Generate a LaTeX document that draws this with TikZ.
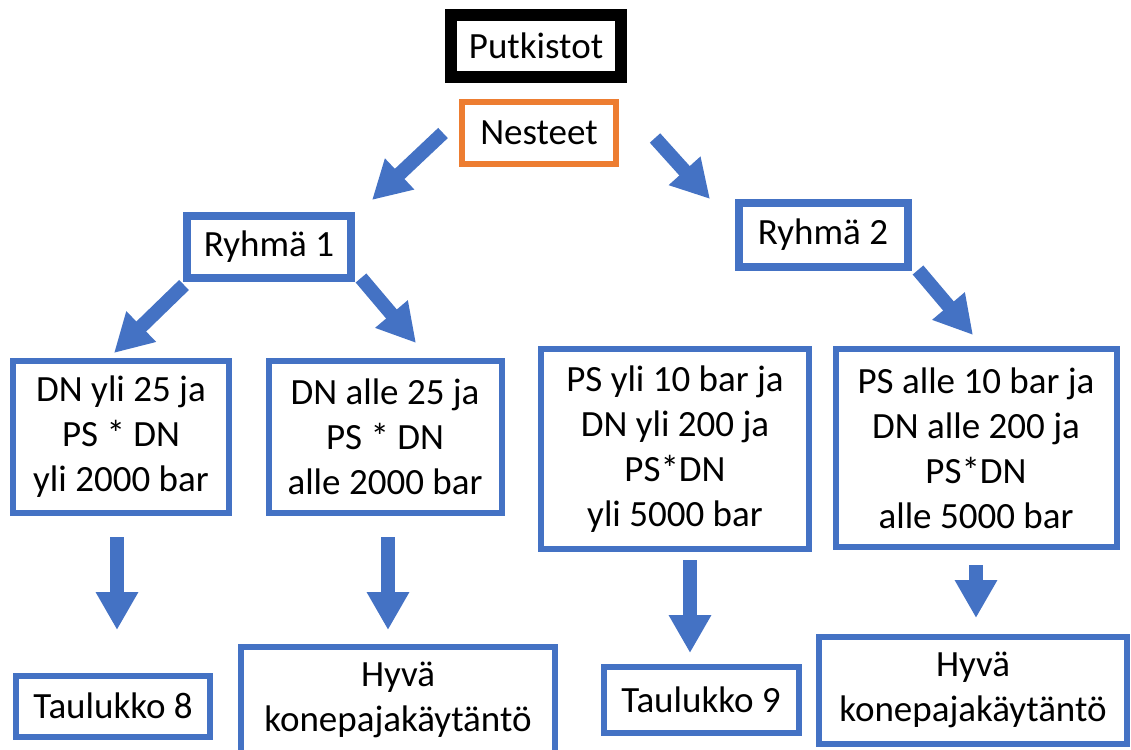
\documentclass[tikz,border=0pt]{standalone}
\usepackage{fontspec}
\setmainfont{Carlito}
\usetikzlibrary{arrows.meta}
\definecolor{boxblue}{HTML}{4472C4}
\definecolor{boxorange}{HTML}{ED7D31}
\tikzset{
  box/.style={draw=boxblue, line width=6pt, fill=white, align=center, inner sep=0pt,
    font=\fontsize{37}{45}\selectfont},
  groupbox/.style={box, line width=8pt},
  bigarrow/.style={draw=boxblue, line width=14pt, -{Triangle[length=38pt,width=40pt]}},
}

\begin{document}
\begin{tikzpicture}[x=1pt,y=-1pt]
			\useasboundingbox (0,0) rectangle (1131,749);
			\node[box, draw=black, line width=12pt, minimum width=170pt, minimum height=62pt] (putki) at (536,46) {Putkistot};
			\node[box, draw=boxorange, minimum width=154pt, minimum height=62pt] (neste) at (539,133) {Nesteet};
			\node[groupbox, minimum width=164pt, minimum height=62pt] (ryhma1) at (269,247) {Ryhmä 1};
			\node[groupbox, minimum width=169pt, minimum height=64pt] (ryhma2) at (823,235) {Ryhmä 2};
			\node[box, minimum width=216pt, minimum height=152pt] (dnyli) at (121,437) {DN yli 25 ja\\PS * DN\\yli 2000 bar};
			\node[box, minimum width=233pt, minimum height=152pt] (dnalle) at (385,437) {DN alle 25 ja\\PS * DN\\alle 2000 bar};
			\node[box, minimum width=268pt, minimum height=200pt] (psyli) at (675,449) {PS yli 10 bar ja\\DN yli 200 ja\\PS*DN\\yli 5000 bar};
			\node[box, minimum width=281pt, minimum height=198pt] (psalle) at (976,448) {PS alle 10 bar ja\\DN alle 200 ja\\PS*DN\\alle 5000 bar};
			\node[box, minimum width=194pt, minimum height=61pt] (taul8) at (113,706) {Taulukko 8};
			\node[box, minimum width=314pt, minimum height=107pt] (hyva1) at (398,700) {Hyvä\\konepajakäytäntö};
			\node[box, minimum width=195pt, minimum height=66pt] (taul9) at (701,700) {Taulukko 9};
			\node[box, minimum width=308pt, minimum height=107pt] (hyva2) at (973,690) {Hyvä\\konepajakäytäntö};
			% arrow ends
			\coordinate (n1s) at (443,133); \coordinate (n1e) at (372,200);
			\coordinate (n2s) at (655,138); \coordinate (n2e) at (710,199);
			\coordinate (r1as) at (184,285); \coordinate (r1ae) at (114,353);
			\coordinate (r1bs) at (361,278); \coordinate (r1be) at (416,343);
			\coordinate (r2s) at (918,270); \coordinate (r2e) at (973,335);
			\coordinate (d1s) at (117,537); \coordinate (d1e) at (117,630);
			\coordinate (d2s) at (388,537); \coordinate (d2e) at (388,630);
			\coordinate (d3s) at (690,560); \coordinate (d3e) at (690,653);
			\coordinate (d4s) at (976,565); \coordinate (d4e) at (976,618);
			\draw[bigarrow] (n1s) -- (n1e);
			\draw[bigarrow] (n2s) -- (n2e);
			\draw[bigarrow] (r1as) -- (r1ae);
			\draw[bigarrow] (r1bs) -- (r1be);
			\draw[bigarrow] (r2s) -- (r2e);
			\draw[bigarrow] (d1s) -- (d1e);
			\draw[bigarrow] (d2s) -- (d2e);
			\draw[bigarrow] (d3s) -- (d3e);
			\draw[bigarrow] (d4s) -- (d4e);
		\end{tikzpicture}
\end{document}
